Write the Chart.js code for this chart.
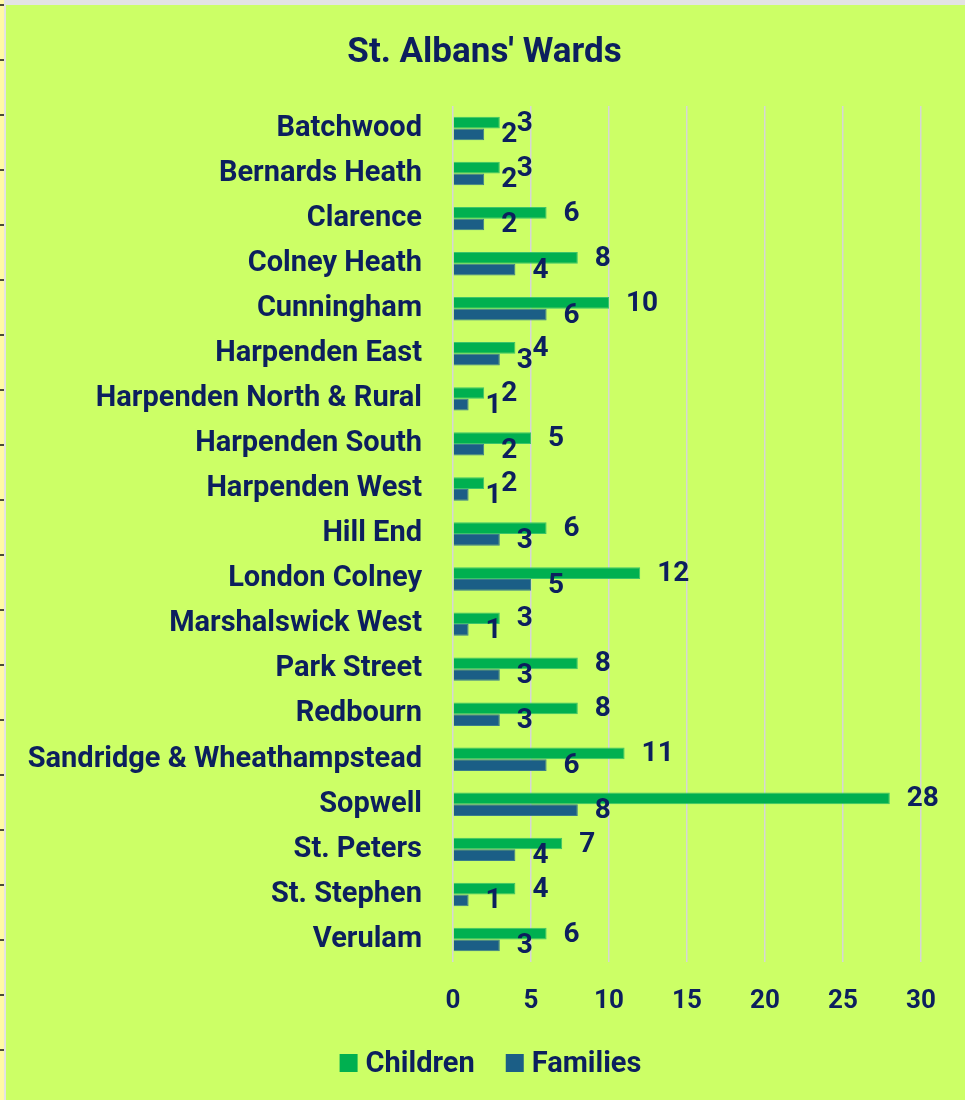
<!DOCTYPE html>
<html>
<head>
<meta charset="utf-8">
<script src="https://cdn.jsdelivr.net/npm/chart.js@4.4.1/dist/chart.umd.min.js"></script>
<style>
    html, body { margin: 0; padding: 0; background: #ffffff; }
    #frame { position: absolute; left: 0; top: 0; width: 965px; height: 1100px; background: #e3e3e3; }
    #rowstrip {
        position: absolute; left: 0; top: 0; width: 4px; height: 1100px;
        background-color: #fff9a6;
        background-image: repeating-linear-gradient(to bottom, transparent 0px, transparent 4px, #4a4a3a 4px, #4a4a3a 6px, transparent 6px, transparent 55px);
    }
    #wrap { position: absolute; left: 6px; top: 5px; width: 959px; height: 1095px; background: #ccff66; }
</style>
</head>
<body>
<div id="frame">
    <div id="rowstrip"></div>
    <div id="wrap"><canvas id="chartOne"></canvas></div>
</div>
<script>
// ward data
const wards = ['Batchwood', 'Bernards Heath', 'Clarence', 'Colney Heath', 'Cunningham', 'Harpenden East',
    'Harpenden North & Rural', 'Harpenden South', 'Harpenden West', 'Hill End', 'London Colney',
    'Marshalswick West', 'Park Street', 'Redbourn', 'Sandridge & Wheathampstead', 'Sopwell',
    'St. Peters', 'St. Stephen', 'Verulam'];
const children = [3, 3, 6, 8, 10, 4, 2, 5, 2, 6, 12, 3, 8, 8, 11, 28, 7, 4, 6];
const families = [2, 2, 2, 4, 6, 3, 1, 2, 1, 3, 5, 1, 3, 3, 6, 8, 4, 1, 3];
const xTicks = [0, 5, 10, 15, 20, 25, 30];
const chartTitle = "St. Albans' Wards";

const navy = '#0c1f5e';
const fontFamily = 'Roboto, "Liberation Sans", Arial, sans-serif';

// title, legend and value labels drawn by hand so they sit where the original has them
const decorations = {
    id: 'decorations',
    afterDatasetsDraw(chart) {
        const ctx = chart.ctx;
        ctx.save();
        ctx.fillStyle = navy;

        // value labels next to the bar ends
        ctx.font = 'bold 28px ' + fontFamily;
        ctx.textAlign = 'left';
        ctx.textBaseline = 'middle';
        chart.data.datasets.forEach((ds, i) => {
            chart.getDatasetMeta(i).data.forEach((bar, j) => {
                ctx.fillText(String(ds.data[j]), bar.x + 17, bar.y + 1);
            });
        });

        // title
        ctx.font = 'bold 35px ' + fontFamily;
        ctx.textAlign = 'center';
        ctx.textBaseline = 'alphabetic';
        ctx.fillText(chartTitle, 478.5, 57);

        // legend
        ctx.font = 'bold 29px ' + fontFamily;
        ctx.textAlign = 'left';
        const box = 18, gap = 8, between = 31, baseline = 1067;
        const widths = chart.data.datasets.map(ds => ctx.measureText(ds.label).width);
        let total = between * (widths.length - 1);
        widths.forEach(w => { total += box + gap + w; });
        let x = 484.5 - total / 2;
        chart.data.datasets.forEach((ds, i) => {
            ctx.fillStyle = ds.backgroundColor;
            ctx.fillRect(x, baseline - box, box, box);
            ctx.fillStyle = navy;
            ctx.fillText(ds.label, x + box + gap, baseline);
            x += box + gap + widths[i] + between;
        });
        ctx.restore();
    }
};

const chartOne = new Chart(document.getElementById('chartOne'), {
    type: 'bar',
    data: {
        labels: wards,
        datasets: [{
            label: 'Children',
            data: children,
            backgroundColor: '#00b050',
            borderColor: '#3cc46a',
            borderWidth: 1,
            categoryPercentage: 0.52,
            barPercentage: 1
        }, {
            label: 'Families',
            data: families,
            backgroundColor: '#1b5e86',
            borderColor: '#3a7c8c',
            borderWidth: 1,
            categoryPercentage: 0.52,
            barPercentage: 1
        }]
    },
    options: {
        indexAxis: 'y',
        responsive: true,
        maintainAspectRatio: false,
        animation: false,
        layout: { padding: { left: 0, right: 44, top: 101, bottom: 58.8 } },
        plugins: {
            title: { display: false },
            legend: { display: false },
            tooltip: { enabled: false }
        },
        scales: {
            x: {
                min: 0,
                max: 30,
                afterBuildTicks(scale) { scale.ticks = xTicks.map(v => ({ value: v })); },
                grid: { color: '#d6d6d6', lineWidth: 1.5, drawTicks: false },
                border: { display: false },
                ticks: {
                    color: navy,
                    padding: 24,
                    font: { family: fontFamily, size: 26, weight: 'bold' }
                }
            },
            y: {
                afterFit(scale) { scale.width = 447; },
                grid: { display: false, drawTicks: false },
                border: { display: false },
                ticks: {
                    color: navy,
                    padding: 31,
                    autoSkip: false,
                    font: { family: fontFamily, size: 29, weight: 'bold' }
                }
            }
        }
    },
    plugins: [decorations]
});
</script>
</body>
</html>
